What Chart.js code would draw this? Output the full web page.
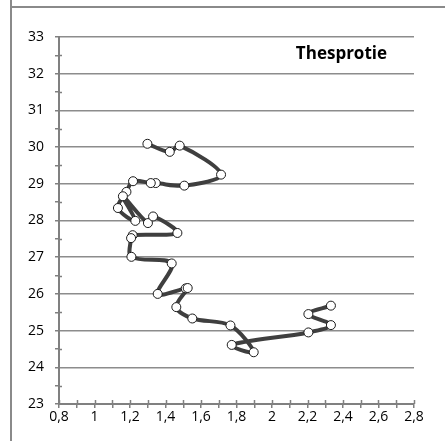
<!DOCTYPE html>
<html>
<head>
<meta charset="utf-8">
<script src="https://cdn.jsdelivr.net/npm/chart.js@4/dist/chart.umd.min.js"></script>
<style>
  html, body { margin: 0; padding: 0; background: #fff; }
  #wrap { position: relative; width: 445px; height: 441px; }
  #chart { position: absolute; left: 0; top: 0; }
  .frameH { position: absolute; left: 10px; top: 6px; width: 435px; height: 2px; background: #8a8a8a; }
  .frameV { position: absolute; left: 10px; top: 0; width: 2px; height: 441px; background: #8a8a8a; }
</style>
</head>
<body>
<div id="wrap">
  <canvas id="chart" width="445" height="441"></canvas>
  <div class="frameH"></div>
  <div class="frameV"></div>
</div>
<script>
// values, in drawing order
const chartTitle = "Thesprotie";
const xValues = [1.298, 1.424, 1.480, 1.713, 1.506, 1.345, 1.317, 1.217, 1.18, 1.132,
  1.23, 1.16, 1.301, 1.33, 1.467, 1.215, 1.206, 1.208, 1.435, 1.356,
  1.514, 1.525, 1.461, 1.551, 1.766, 1.897, 1.773, 2.205, 2.332, 2.205, 2.332];
const yValues = [30.09, 29.87, 30.04, 29.25, 28.95, 29.02, 29.02, 29.07, 28.78, 28.34,
  27.99, 28.66, 27.93, 28.11, 27.66, 27.60, 27.52, 27.01, 26.83, 26.0,
  26.15, 26.16, 25.64, 25.33, 25.14, 24.41, 24.61, 24.95, 25.15, 25.45, 25.68];
const xMin = 0.8, xMax = 2.8, xStep = 0.1;
const yMin = 23, yMax = 33, yStep = 0.5;

const points = xValues.map((x, i) => ({ x: x, y: yValues[i] }));

const fmt = (v) => (Math.round(v * 10) / 10).toString().replace(".", ",");
const isWhole = (v) => Math.abs(v - Math.round(v)) < 1e-6;

// title in the top right corner + the inner half of the cross ticks
const extrasPlugin = {
  id: "extras",
  afterDraw(chart) {
    const ctx = chart.ctx;
    const a = chart.chartArea;
    const sx = chart.scales.x, sy = chart.scales.y;
    ctx.save();
    ctx.strokeStyle = "#808080";
    ctx.lineWidth = 1.5;
    ctx.beginPath();
    sx.ticks.forEach((t) => {
      const px = Math.round(sx.getPixelForValue(t.value)) + 0.5;
      ctx.moveTo(px, a.bottom);
      ctx.lineTo(px, a.bottom - 4);
    });
    sy.ticks.forEach((t) => {
      if (isWhole(t.value)) return;
      const py = Math.round(sy.getPixelForValue(t.value)) + 0.5;
      ctx.moveTo(a.left, py);
      ctx.lineTo(a.left + 3, py);
    });
    ctx.stroke();

    ctx.font = "bold 17px 'Open Sans'";
    ctx.fillStyle = "#000";
    ctx.textAlign = "right";
    ctx.textBaseline = "alphabetic";
    ctx.fillText(chartTitle, a.right - 27, a.top + 22);
    ctx.restore();
  }
};

Chart.defaults.font.family = "'Open Sans'";
Chart.defaults.font.size = 14;
Chart.defaults.color = "#000";

new Chart(document.getElementById("chart"), {
  type: "scatter",
  data: {
    datasets: [{
      data: points,
      showLine: true,
      borderColor: "#3f3f3f",
      borderWidth: 4,
      tension: 0.33,
      pointRadius: 4.5,
      pointBorderWidth: 1,
      pointBorderColor: "#1a1a1a",
      pointBackgroundColor: "#fff"
    }]
  },
  options: {
    responsive: false,
    animation: false,
    layout: { padding: { top: 37, right: 31, left: 0, bottom: 0 } },
    plugins: { legend: { display: false }, tooltip: { enabled: false } },
    scales: {
      x: {
        type: "linear",
        min: xMin,
        max: xMax,
        afterFit: (s) => { s.height = 37; },
        border: { color: "#808080", width: 2 },
        grid: { drawOnChartArea: false, tickLength: 4, tickColor: "#808080", lineWidth: 1.5 },
        ticks: {
          stepSize: xStep,
          autoSkip: false,
          maxRotation: 0,
          padding: 1,
          callback: (v) => (Math.round(v * 10) % 2 === 0 ? fmt(v) : "")
        }
      },
      y: {
        min: yMin,
        max: yMax,
        afterFit: (s) => { s.width = 59; },
        border: { color: "#808080", width: 2 },
        grid: {
          color: (c) => (c.tick && isWhole(c.tick.value) ? "#8c8c8c" : "rgba(0,0,0,0)"),
          lineWidth: 1.5,
          tickLength: 4,
          tickColor: "#808080"
        },
        ticks: {
          stepSize: yStep,
          autoSkip: false,
          padding: 11,
          callback: (v) => (isWhole(v) ? fmt(v) : "")
        }
      }
    }
  },
  plugins: [extrasPlugin]
});
</script>
</body>
</html>
